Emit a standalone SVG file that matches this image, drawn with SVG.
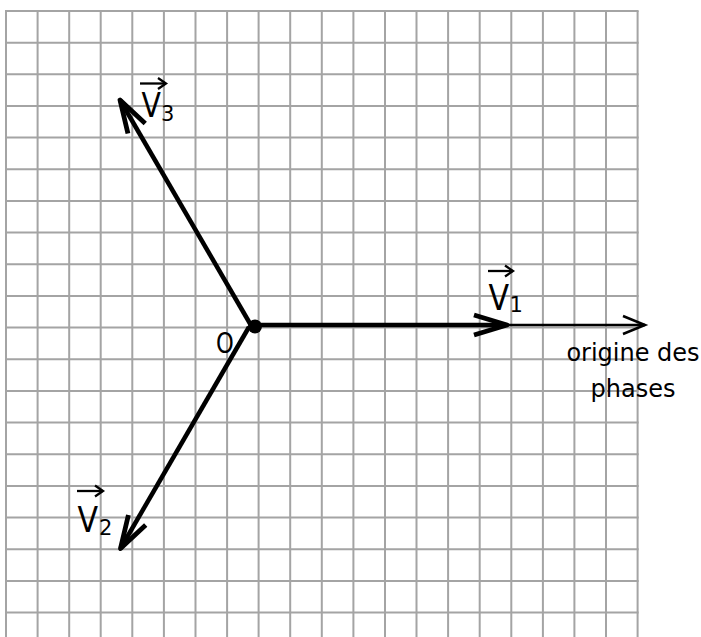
<svg xmlns="http://www.w3.org/2000/svg" width="701" height="637" viewBox="0 0 701 637">
<style>
.grid{stroke:#a4a4a4;stroke-width:2;fill:none}
.thick{stroke:#000;stroke-width:4.5;fill:none;stroke-linecap:butt}
.thin{stroke:#000;stroke-width:2.5;fill:none}
.small{stroke:#000;stroke-width:2.3;fill:none}
.lbl{font-family:"DejaVu Sans","Verdana",sans-serif;fill:#000}
</style>
<defs>
<marker id="hThick" markerUnits="userSpaceOnUse" viewBox="-40 -20 50 40" markerWidth="50" markerHeight="40" refX="0" refY="0" orient="auto" overflow="visible">
<path d="M-33,-10 L0,0 L-33,10" fill="none" stroke="#000" stroke-width="4.8" stroke-linejoin="round" stroke-linecap="butt"/>
</marker>
<marker id="hThin" markerUnits="userSpaceOnUse" viewBox="-30 -15 40 30" markerWidth="40" markerHeight="30" refX="0" refY="0" orient="auto" overflow="visible">
<path d="M-22,-9 L0,0 L-22,9" fill="none" stroke="#000" stroke-width="2.5" stroke-linejoin="miter"/>
</marker>
<marker id="hSmall" markerUnits="userSpaceOnUse" viewBox="-12 -8 16 16" markerWidth="16" markerHeight="16" refX="0" refY="0" orient="auto" overflow="visible">
<path d="M-8,-5.5 L0,0 L-8,5.5" fill="none" stroke="#000" stroke-width="2.3" stroke-linejoin="miter"/>
</marker>
</defs>
<rect x="0" y="0" width="701" height="637" fill="#fff"/>
<g id="grid">
<path class="grid" d="M6,11V637M37.6,11V637M69.2,11V637M100.7,11V637M132.3,11V637M163.9,11V637M195.5,11V637M227.1,11V637M258.6,11V637M290.2,11V637M321.8,11V637M353.4,11V637M385,11V637M416.5,11V637M448.1,11V637M479.7,11V637M511.3,11V637M542.9,11V637M574.4,11V637M606,11V637M637.6,11V637"/>
<path class="grid" d="M5,11H638.6M5,42.7H638.6M5,74.3H638.6M5,106H638.6M5,137.6H638.6M5,169.3H638.6M5,201H638.6M5,232.6H638.6M5,264.3H638.6M5,295.9H638.6M5,327.6H638.6M5,359.3H638.6M5,390.9H638.6M5,422.6H638.6M5,454.2H638.6M5,485.9H638.6M5,517.6H638.6M5,549.2H638.6M5,580.9H638.6M5,612.5H638.6"/>
</g>
<g id="labels">
<g id="label-O"><text class="lbl" font-size="29" transform="translate(216,352.5) scale(0.78,1)">O</text></g>
<g id="label-V1">
<line class="small" x1="488" y1="271" x2="513" y2="271" marker-end="url(#hSmall)"/>
<text class="lbl" font-size="35" transform="translate(488.5,310) scale(0.86,1)">V</text>
<text class="lbl" font-size="21" x="509.5" y="312">1</text>
</g>
<g id="label-V2">
<line class="small" x1="77" y1="491" x2="103" y2="491" marker-end="url(#hSmall)"/>
<text class="lbl" font-size="35" transform="translate(77.5,531.5) scale(0.86,1)">V</text>
<text class="lbl" font-size="21" x="99" y="535">2</text>
</g>
<g id="label-V3">
<line class="small" x1="140" y1="83.5" x2="166" y2="83.5" marker-end="url(#hSmall)"/>
<text class="lbl" font-size="33" transform="translate(141.5,117) scale(0.86,1)">V</text>
<text class="lbl" font-size="21" x="161" y="121">3</text>
</g>
<g id="label-origine">
<text class="lbl" font-size="24" x="633" y="361" text-anchor="middle">origine des</text>
<text class="lbl" font-size="24" x="633" y="397" text-anchor="middle">phases</text>
</g>
</g>
<g id="connectors">
<line class="thin" x1="255" y1="325" x2="645" y2="325" marker-end="url(#hThin)"/>
<line class="thick" x1="255" y1="325" x2="505" y2="325"/>
<path d="M474,315 L507,325 L474,335" fill="none" stroke="#000" stroke-width="4.8" stroke-linejoin="round"/>
<line class="thick" x1="252" y1="327" x2="120" y2="100" marker-end="url(#hThick)"/>
<line class="thick" x1="249" y1="327" x2="120.5" y2="548.5" marker-end="url(#hThick)"/>
</g>
<g id="node-O"><circle cx="255" cy="326.5" r="7" fill="#000"/></g>
</svg>
